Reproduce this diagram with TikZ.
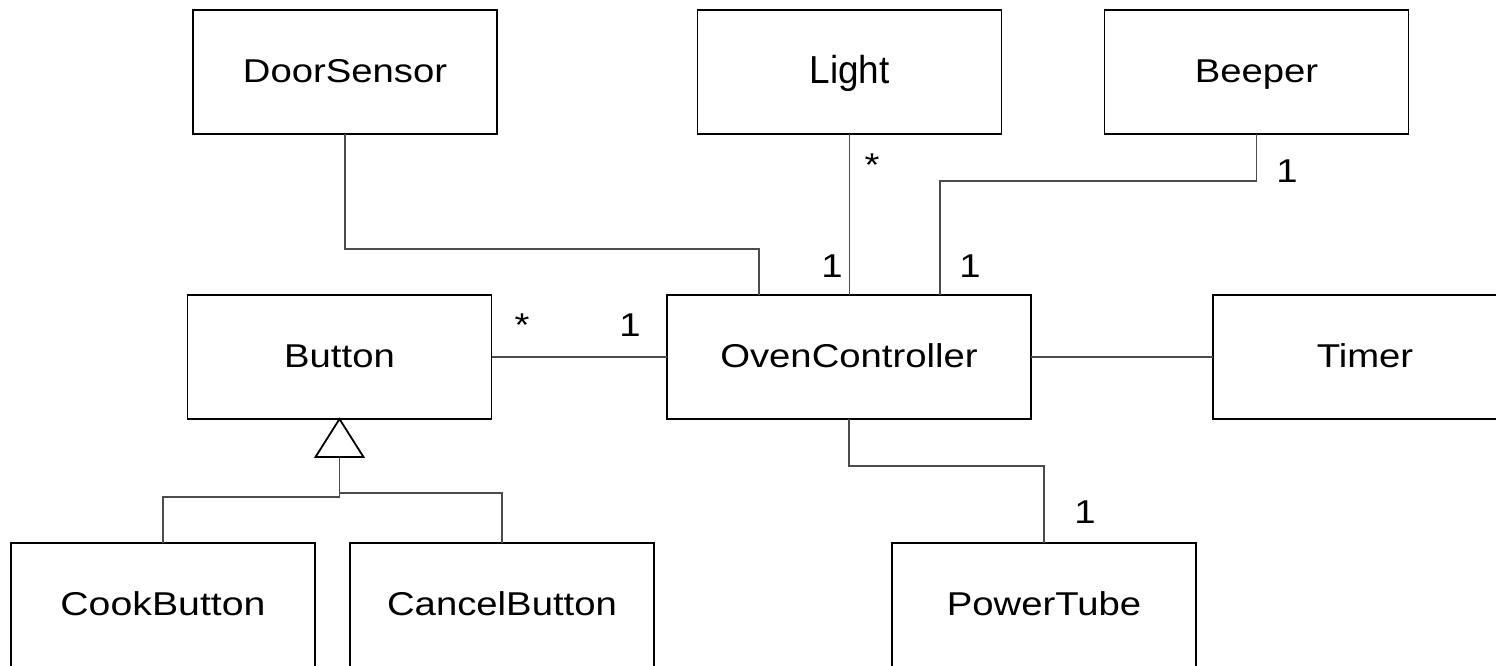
\documentclass[tikz,border=0pt]{standalone}
\usepackage{fontspec}
\setmainfont{Liberation Sans}
\usepackage{graphicx}
\newcommand{\lbl}[3]{\fontsize{#1}{#1}\selectfont\scalebox{#2}[1]{#3}}
\begin{document}
\begin{tikzpicture}[x=1pt,y=-1pt,
  box/.style={draw=black, line width=1.6pt, minimum width=304pt, minimum height=124pt,
    inner sep=0pt, outer sep=0pt, text height=24pt, text depth=4pt},
  conn/.style={line width=1.1pt, draw=black!70},
  gen/.style={line width=1.8pt, draw=black, fill=white, line join=miter},
  mult/.style={anchor=base, inner sep=0pt}]
\useasboundingbox (0,0) rectangle (1496,665);
\clip (0,0) rectangle (1496,665);

\node[box] (ds) at (345,72) {\lbl{33}{1.16}{DoorSensor}};
\node[box, text height=28pt, text depth=6pt] (lt) at (849.5,72) {\lbl{39}{0.946}{Light}};
\node[box] (bp) at (1256.5,72) {\lbl{33}{1.16}{Beeper}};
\node[box] (bt) at (339.5,357) {\lbl{33}{1.16}{Button}};
\node[box, minimum width=364pt] (oc) at (849,357) {\lbl{33}{1.16}{OvenController}};
\node[box] (tm) at (1365,357) {\lbl{33}{1.16}{Timer}};
\node[box] (cb) at (163,605) {\lbl{33}{1.19}{CookButton}};
\node[box] (cn) at (502,605) {\lbl{33}{1.16}{CancelButton}};
\node[box] (pt) at (1044,605) {\lbl{33}{1.16}{PowerTube}};

\draw[conn] (ds.south) |- (759,249) -- (oc.north -| 759,0);
\draw[conn] (lt.south) -- (oc.north -| lt.south);
\draw[conn] (bp.south) |- (940,181) -- (oc.north -| 940,0);
\draw[conn] (bt.east) -- (oc.west);
\draw[conn] (oc.east) -- (tm.west);
\draw[conn] (oc.south) |- (1044,466) -- (pt.north);

\coordinate (tb) at (339.5,457);
\draw[conn] (tb) -- (339.5,497) -| (cb.north);
\draw[conn] (339.5,493) -| (cn.north);
\draw[gen] (bt.south) -- ++(-24,38) -- ++(48,0) -- cycle;

\node[mult] (m1) at (872,176) {\lbl{33}{1.16}{*}};
\node[mult] (m2) at (832,277) {\lbl{33}{1.16}{1}};
\node[mult] (m3) at (970,277) {\lbl{33}{1.16}{1}};
\node[mult] (m4) at (1287,182) {\lbl{33}{1.16}{1}};
\node[mult] (m5) at (522,336) {\lbl{33}{1.16}{*}};
\node[mult] (m6) at (630,336) {\lbl{33}{1.16}{1}};
\node[mult] (m7) at (1085,523) {\lbl{33}{1.16}{1}};
\end{tikzpicture}
\end{document}
